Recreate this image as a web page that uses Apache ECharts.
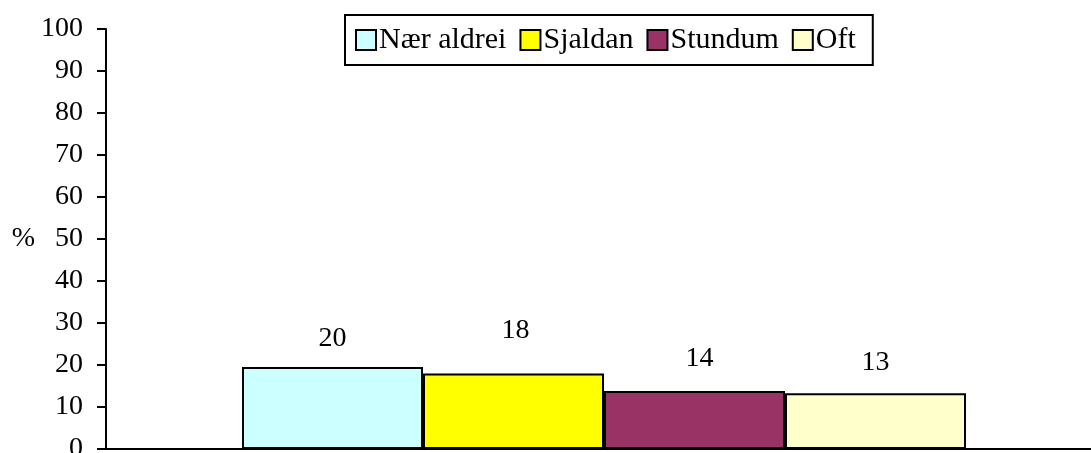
<!DOCTYPE html>
<html>
<head>
<meta charset="utf-8">
<script src="https://cdn.jsdelivr.net/npm/echarts@6/dist/echarts.min.js"></script>
<style>
  html, body { margin: 0; padding: 0; background: #fff; }
  #chart { width: 1091px; height: 453px; }
</style>
</head>
<body>
<div id="chart"></div>
<script>
const categories = [""];
const seriesNames = ["Nær aldrei", "Sjaldan", "Stundum", "Oft"];
const seriesValues = [19.5, 18.0, 13.8, 13.3];
const yTicks = { min: 0, max: 100, interval: 10 };

const colors = ["#CCFFFF", "#FFFF00", "#993366", "#FFFFCC"];
// manual label nudges, like in the original sheet
const labelDist = [14, 29, 18, 16];
const labelDx = [0, 2, 5, 0];

const font = "'Liberation Serif', 'Times New Roman', serif";

const chart = echarts.init(document.getElementById("chart"));

chart.setOption({
  animation: false,
  textStyle: { fontFamily: font, color: "#000" },
  grid: {
    left: 106, right: -11, top: 29, bottom: 4,
    containLabel: false,
    outerBoundsMode: "none"
  },
  legend: {
    top: 15,
    left: 345,
    padding: [10, 17, 10, 10],
    itemWidth: 20,
    itemHeight: 20,
    itemGap: 13,
    icon: "rect",
    borderColor: "#000",
    borderWidth: 2,
    textStyle: { fontFamily: font, fontSize: 30, color: "#000", padding: [0, 0, 0, -2] },
    itemStyle: { borderColor: "#000", borderWidth: 2 },
    data: seriesNames
  },
  xAxis: {
    type: "category",
    data: categories,
    axisLine: { lineStyle: { color: "#000", width: 2 } },
    axisTick: { show: false },
    axisLabel: { show: false }
  },
  yAxis: {
    type: "value",
    min: yTicks.min,
    max: yTicks.max,
    interval: yTicks.interval,
    name: "%",
    nameLocation: "middle",
    nameRotate: 0,
    nameGap: 71,
    nameTextStyle: { fontFamily: font, fontSize: 28, color: "#000" },
    axisLine: { show: true, lineStyle: { color: "#000", width: 2 } },
    axisTick: { show: true, length: 9, lineStyle: { color: "#000", width: 2 } },
    axisLabel: { fontFamily: font, fontSize: 28, color: "#000", margin: 23 },
    splitLine: { show: false }
  },
  series: seriesNames.map((name, i) => ({
    name,
    type: "bar",
    data: [seriesValues[i]],
    barWidth: 181,
    barGap: "0%",
    itemStyle: { color: colors[i], borderColor: "#000", borderWidth: 2 },
    label: {
      show: true,
      position: "top",
      distance: labelDist[i],
      offset: [labelDx[i], 0],
      fontFamily: font,
      fontSize: 28,
      color: "#000",
      formatter: (p) => Math.round(p.value)
    }
  }))
});
</script>
</body>
</html>
